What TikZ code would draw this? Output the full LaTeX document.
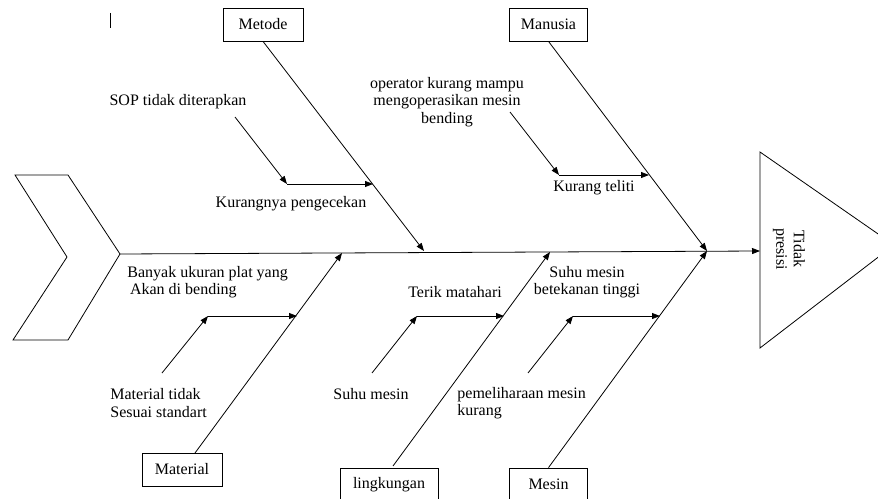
\documentclass[tikz,border=0pt]{standalone}
\usepackage{fontspec}
\setmainfont{Liberation Serif}
\usetikzlibrary{arrows.meta}

\begin{document}
\begin{tikzpicture}[x=0.75pt,y=-0.75pt,line width=0.6pt,
    >={Triangle[length=6pt,width=4.5pt]},
    font=\fontsize{12}{13}\selectfont]

      \useasboundingbox (0,0) rectangle (878,499);
      \clip (0,0) rectangle (878,499);

      \draw (110,13) -- (110,28);

      \draw (15,175) -- (68,175) -- (120,254) -- (68,340) -- (13,340) -- (67,257) -- cycle;
      \draw (760,152) -- (894,245) -- (760,348) -- cycle;

      \coordinate (tail) at (120,254);
      \coordinate (head) at (760,251);
      \coordinate (j1) at (424,251);
      \coordinate (j2) at (707,251);
      \coordinate (j3) at (342,253);
      \coordinate (j4) at (550,252);
      \coordinate (m1) at (195,453);
      \coordinate (l1) at (393,466);

      \coordinate (a1) at (235,117);
      \coordinate (a2) at (287,184);
      \coordinate (a3) at (373,184);
      \coordinate (b1) at (510,112);
      \coordinate (b2) at (559,175);
      \coordinate (b3) at (649,175);
      \coordinate (c1) at (162,373);
      \coordinate (c2) at (208,316);
      \coordinate (c3) at (297,316);
      \coordinate (d1) at (372,373);
      \coordinate (d2) at (417,316);
      \coordinate (d3) at (504,316);
      \coordinate (e1) at (528,373);
      \coordinate (e2) at (573,316);
      \coordinate (e3) at (660,316);

      \begin{scope}[every node/.style={draw,rectangle,minimum height=24.75pt,inner sep=0pt}]
        \node[minimum width=60pt]   (metode)     at (263,24.5)  {Metode};
        \node[minimum width=59pt]   (manusia)    at (548.5,24.5) {Manusia};
        \node[minimum width=60pt]   (material)   at (182,469.5) {Material};
        \node[minimum width=73.5pt] (lingkungan) at (389,484.5) {lingkungan};
        \node[minimum width=59pt]   (mesin)      at (548.5,484.5) {Mesin};
      \end{scope}

      \begin{scope}[every node/.style={align=center,inner sep=0pt}]
        \node (sop)      at (178,102) {SOP tidak diterapkan};
        \node (cek)      at (291,204) {Kurangnya pengecekan};
        \node (operator) at (447,102) {operator kurang mampu\\mengoperasikan mesin\\bending};
        \node (teliti)   at (594,188) {Kurang teliti};
        \node[anchor=west,align=left] (plat) at (127,282) {Banyak ukuran plat yang\\\hspace{2pt}Akan di bending};
        \node (terik)    at (455,292) {Terik matahari};
        \node (tekanan)  at (587,282) {Suhu mesin\\betekanan tinggi};
        \node[anchor=west,align=left] (standart) at (110,403) {Material tidak\\Sesuai standart};
        \node (suhu)     at (371,394) {Suhu mesin};
        \node[anchor=west,align=left] (rawat) at (457,403) {pemeliharaan mesin\\kurang};
        \node[rotate=-90] (presisi) at (789,249) {Tidak\\presisi};
      \end{scope}

      \draw[->] (tail) -- (head);
      \draw[->] (metode.south) -- (j1);
      \draw[->] (manusia.south) -- (j2);
      \draw[->] (m1) -- (j3);
      \draw[->] (l1) -- (j4);
      \draw[->] (mesin.north) -- (j2);

      \draw[->] (a1) -- (a2);
      \draw[->] (a2) -- (a3);
      \draw[->] (b1) -- (b2);
      \draw[->] (b2) -- (b3);
      \draw[->] (c1) -- (c2);
      \draw[->] (c2) -- (c3);
      \draw[->] (d1) -- (d2);
      \draw[->] (d2) -- (d3);
      \draw[->] (e1) -- (e2);
      \draw[->] (e2) -- (e3);

\end{tikzpicture}
\end{document}
